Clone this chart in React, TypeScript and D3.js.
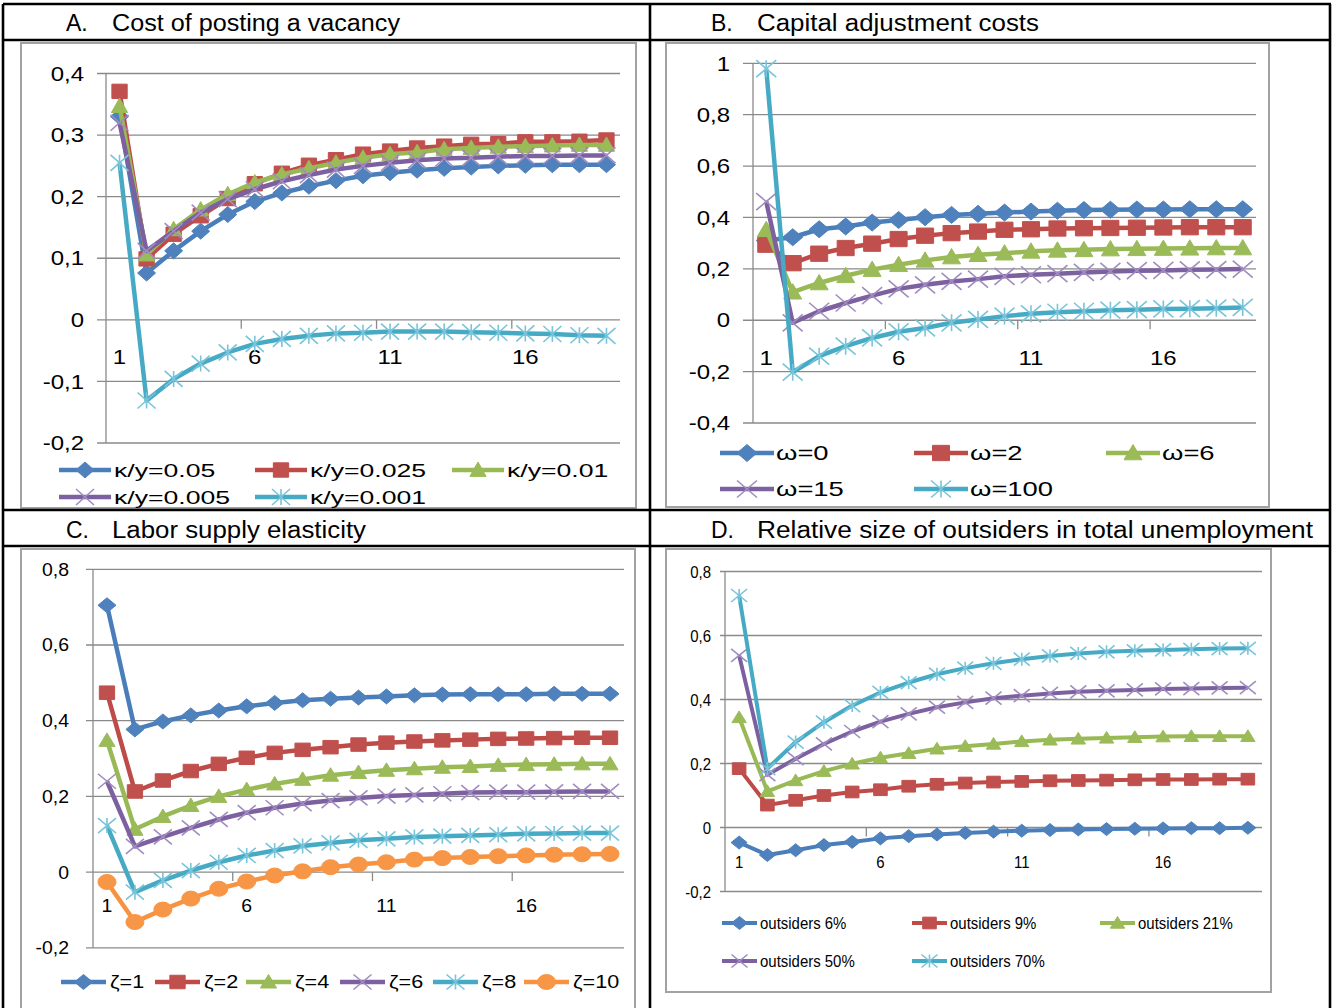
import React, { useEffect, useRef } from 'react';
import * as d3 from 'd3';

// horizon (quarters) shared by all four panels
const periods = [1, 2, 3, 4, 5, 6, 7, 8, 9, 10, 11, 12, 13, 14, 15, 16, 17, 18, 19];
const periodTicks = [1, 6, 11, 16];

// A. Cost of posting a vacancy
const vacancyLabels = ['κ/y=0.05', 'κ/y=0.025', 'κ/y=0.01', 'κ/y=0.005', 'κ/y=0.001'];
const vacancy005 = [0.33, 0.076, 0.112, 0.144, 0.171, 0.192, 0.206, 0.217, 0.226, 0.234, 0.239, 0.243, 0.246, 0.248, 0.25, 0.251, 0.252, 0.252, 0.252];
const vacancy0025 = [0.371, 0.099, 0.139, 0.169, 0.197, 0.221, 0.238, 0.251, 0.26, 0.269, 0.274, 0.279, 0.282, 0.285, 0.286, 0.289, 0.289, 0.29, 0.292];
const vacancy001 = [0.347, 0.106, 0.147, 0.179, 0.204, 0.223, 0.236, 0.246, 0.255, 0.263, 0.269, 0.272, 0.277, 0.279, 0.281, 0.282, 0.283, 0.284, 0.284];
const vacancy0005 = [0.32, 0.112, 0.144, 0.174, 0.196, 0.212, 0.225, 0.235, 0.244, 0.25, 0.255, 0.259, 0.262, 0.263, 0.265, 0.266, 0.266, 0.267, 0.267];
const vacancy0001 = [0.255, -0.131, -0.096, -0.071, -0.053, -0.039, -0.031, -0.026, -0.022, -0.021, -0.019, -0.019, -0.019, -0.02, -0.021, -0.022, -0.023, -0.025, -0.026];
const vacancyTicks = [-0.2, -0.1, 0, 0.1, 0.2, 0.3, 0.4];

// B. Capital adjustment costs
const omegaLabels = ['ω=0', 'ω=2', 'ω=6', 'ω=15', 'ω=100'];
const omega0 = [0.31, 0.323, 0.354, 0.365, 0.38, 0.39, 0.401, 0.41, 0.414, 0.419, 0.423, 0.426, 0.429, 0.43, 0.431, 0.431, 0.432, 0.432, 0.432];
const omega2 = [0.294, 0.222, 0.259, 0.281, 0.298, 0.316, 0.329, 0.339, 0.345, 0.352, 0.354, 0.357, 0.358, 0.359, 0.36, 0.361, 0.362, 0.362, 0.362];
const omega6 = [0.352, 0.109, 0.145, 0.173, 0.197, 0.216, 0.233, 0.246, 0.255, 0.261, 0.268, 0.272, 0.274, 0.277, 0.278, 0.279, 0.28, 0.281, 0.281];
const omega15 = [0.462, -0.01, 0.035, 0.067, 0.096, 0.122, 0.138, 0.151, 0.16, 0.171, 0.177, 0.181, 0.186, 0.19, 0.193, 0.194, 0.196, 0.197, 0.199];
const omega100 = [0.979, -0.202, -0.14, -0.101, -0.069, -0.045, -0.03, -0.01, 0.003, 0.016, 0.025, 0.031, 0.035, 0.039, 0.041, 0.044, 0.045, 0.047, 0.05];
const omegaTicks = [-0.4, -0.2, 0, 0.2, 0.4, 0.6, 0.8, 1];

// C. Labor supply elasticity
const zetaLabels = ['ζ=1', 'ζ=2', 'ζ=4', 'ζ=6', 'ζ=8', 'ζ=10'];
const zeta1 = [0.705, 0.377, 0.398, 0.414, 0.427, 0.438, 0.447, 0.454, 0.458, 0.461, 0.464, 0.467, 0.469, 0.47, 0.47, 0.47, 0.471, 0.471, 0.471];
const zeta2 = [0.474, 0.213, 0.242, 0.267, 0.286, 0.302, 0.315, 0.323, 0.33, 0.337, 0.342, 0.345, 0.348, 0.35, 0.352, 0.353, 0.354, 0.355, 0.355];
const zeta4 = [0.348, 0.113, 0.147, 0.176, 0.2, 0.218, 0.233, 0.245, 0.256, 0.263, 0.269, 0.273, 0.277, 0.279, 0.282, 0.284, 0.285, 0.286, 0.286];
const zeta6 = [0.24, 0.068, 0.093, 0.117, 0.139, 0.157, 0.17, 0.181, 0.189, 0.196, 0.201, 0.204, 0.207, 0.21, 0.211, 0.211, 0.212, 0.213, 0.213];
const zeta8 = [0.123, -0.053, -0.022, 0.004, 0.026, 0.044, 0.057, 0.069, 0.077, 0.084, 0.088, 0.093, 0.095, 0.097, 0.099, 0.101, 0.102, 0.103, 0.103];
const zeta10 = [-0.026, -0.132, -0.099, -0.07, -0.044, -0.025, -0.009, 0.002, 0.013, 0.02, 0.026, 0.033, 0.037, 0.04, 0.042, 0.044, 0.046, 0.047, 0.048];
const zetaTicks = [-0.2, 0, 0.2, 0.4, 0.6, 0.8];

// D. Relative size of outsiders in total unemployment
const outsiderLabels = ['outsiders 6%', 'outsiders 9%', 'outsiders 21%', 'outsiders 50%', 'outsiders 70%'];
const outsiders6 = [-0.047, -0.086, -0.071, -0.055, -0.045, -0.034, -0.027, -0.022, -0.017, -0.013, -0.01, -0.008, -0.006, -0.005, -0.004, -0.003, -0.002, -0.002, -0.001];
const outsiders9 = [0.184, 0.07, 0.085, 0.1, 0.111, 0.118, 0.129, 0.135, 0.139, 0.142, 0.144, 0.146, 0.147, 0.148, 0.149, 0.15, 0.15, 0.151, 0.151];
const outsiders21 = [0.344, 0.113, 0.147, 0.176, 0.199, 0.218, 0.232, 0.246, 0.254, 0.261, 0.269, 0.274, 0.277, 0.28, 0.282, 0.284, 0.285, 0.285, 0.285];
const outsiders50 = [0.538, 0.165, 0.215, 0.261, 0.3, 0.331, 0.355, 0.376, 0.391, 0.404, 0.412, 0.419, 0.424, 0.427, 0.43, 0.433, 0.434, 0.436, 0.437];
const outsiders70 = [0.725, 0.184, 0.267, 0.329, 0.381, 0.422, 0.453, 0.479, 0.498, 0.513, 0.526, 0.536, 0.544, 0.549, 0.552, 0.555, 0.557, 0.559, 0.56];
const outsiderTicks = [-0.2, 0, 0.2, 0.4, 0.6, 0.8];

type Shape = 'diamond' | 'square' | 'triangle' | 'cross' | 'star' | 'circle';

// Excel 2007 palette
const lineColors = ['#4A7EBB', '#BE4B48', '#98B954', '#7D60A0', '#46AAC5', '#F69240'];
const markerColors = ['#4F81BD', '#C0504D', '#9BBB59', '#A08CC0', '#78C4DA', '#F79646'];
const shapes: Shape[] = ['diamond', 'square', 'triangle', 'cross', 'star', 'circle'];

const FONT = "'Liberation Sans', Arial, sans-serif";

interface PanelSpec {
  box: [number, number, number, number];
  plot: { left: number; right: number; top: number; bottom: number };
  yTicks: number[];
  tickOut: number;
  tickFont: number;
  tickSx: number;
  yLabelX: number;
  xLabelDy: number;
  legendFont: number;
  legendSx: number;
  legendCols: number[];
  legendRows: number[];
  legendLine: number;
  legendGap: number;
  lineWidth: number;
  mw: number;
  mh: number;
  labels: string[];
  series: number[][];
}

const panels: PanelSpec[] = [
  {
    box: [21, 43, 636, 508],
    plot: { left: 106, right: 620, top: 73.5, bottom: 443 },
    yTicks: vacancyTicks,
    tickOut: 9, tickFont: 20, tickSx: 1.2, yLabelX: 84, xLabelDy: 44,
    legendFont: 19, legendSx: 1.4, legendCols: [59, 255, 452], legendRows: [470, 497],
    legendLine: 52, legendGap: 3,
    lineWidth: 4.5, mw: 9, mh: 8,
    labels: vacancyLabels,
    series: [vacancy005, vacancy0025, vacancy001, vacancy0005, vacancy0001],
  },
  {
    box: [666, 43, 1269, 507],
    plot: { left: 753, right: 1256, top: 63.3, bottom: 423 },
    yTicks: omegaTicks,
    tickOut: 10, tickFont: 20, tickSx: 1.2, yLabelX: 730, xLabelDy: 45,
    legendFont: 20, legendSx: 1.37, legendCols: [720, 914, 1106], legendRows: [453, 489],
    legendLine: 54, legendGap: 2,
    lineWidth: 4.5, mw: 10, mh: 8.5,
    labels: omegaLabels,
    series: [omega0, omega2, omega6, omega15, omega100],
  },
  {
    box: [21, 549, 635, 1014],
    plot: { left: 93, right: 624, top: 569.3, bottom: 947.8 },
    yTicks: zetaTicks,
    tickOut: 7, tickFont: 18, tickSx: 1.08, yLabelX: 69, xLabelDy: 39.5,
    legendFont: 18, legendSx: 1.2, legendCols: [61, 155, 246, 340, 433, 524], legendRows: [982],
    legendLine: 45, legendGap: 4,
    lineWidth: 4.5, mw: 9, mh: 7.5,
    labels: zetaLabels,
    series: [zeta1, zeta2, zeta4, zeta6, zeta8, zeta10],
  },
  {
    box: [666, 549, 1271, 992],
    plot: { left: 725, right: 1262, top: 571.5, bottom: 891.5 },
    yTicks: outsiderTicks,
    tickOut: 5, tickFont: 17, tickSx: 0.88, yLabelX: 711, xLabelDy: 40,
    legendFont: 17, legendSx: 0.88, legendCols: [722, 912, 1100], legendRows: [923, 961],
    legendLine: 35, legendGap: 3,
    lineWidth: 4, mw: 8, mh: 6.5,
    labels: outsiderLabels,
    series: [outsiders6, outsiders9, outsiders21, outsiders50, outsiders70],
  },
];

const headers = [
  { letter: 'A.', text: 'Cost of posting a vacancy', x: 66, y: 30, len: 288 },
  { letter: 'B.', text: 'Capital adjustment costs', x: 711, y: 30, len: 282 },
  { letter: 'C.', text: 'Labor supply elasticity', x: 66, y: 537, len: 254 },
  { letter: 'D.', text: 'Relative size of outsiders in total unemployment', x: 711, y: 537, len: 556 },
];

const markerPath = (shape: Shape, hw: number, hh: number) => {
  switch (shape) {
    case 'diamond':
      return `M0,${-hh}L${hw},0L0,${hh}L${-hw},0Z`;
    case 'square':
      return `M${-hw * 0.85},${-hh * 0.9}H${hw * 0.85}V${hh * 0.9}H${-hw * 0.85}Z`;
    case 'triangle':
      return `M0,${-hh}L${hw * 0.9},${hh * 0.8}L${-hw * 0.9},${hh * 0.8}Z`;
    case 'cross':
      return `M${-hw},${-hh}L${hw},${hh}M${hw},${-hh}L${-hw},${hh}`;
    case 'star':
      return `M${-hw},${-hh}L${hw},${hh}M${hw},${-hh}L${-hw},${hh}M0,${-hh}V${hh}`;
    default:
      return `M${-hw},0A${hw},${hh} 0 1,0 ${hw},0A${hw},${hh} 0 1,0 ${-hw},0Z`;
  }
};

const fmtTick = (t: number) => (t === 0 ? '0' : Number.isInteger(t) ? String(t) : t.toFixed(1).replace('.', ','));

const Panel: React.FC<{ spec: PanelSpec }> = ({ spec }) => {
  const ref = useRef<SVGGElement>(null);

  useEffect(() => {
    if (!ref.current) return;
    const g = d3.select(ref.current);
    g.selectAll('*').remove();
    const { plot } = spec;

    const x = d3.scaleBand<number>().domain(periods).range([plot.left, plot.right]);
    const cx = (p: number) => (x(p) as number) + x.bandwidth() / 2;
    const y = d3.scaleLinear().domain([d3.min(spec.yTicks)!, d3.max(spec.yTicks)!]).range([plot.bottom, plot.top]);

    const addText = (parent: any, str: string, tx: number, ty: number, size: number, sx: number, anchor: string) =>
      parent.append('text')
        .attr('transform', `translate(${tx},${ty}) scale(${sx},1)`)
        .attr('text-anchor', anchor)
        .attr('font-family', FONT)
        .attr('font-size', size)
        .attr('fill', '#000')
        .text(str);

    // chart frame
    const [bx0, by0, bx1, by1] = spec.box;
    g.append('rect')
      .attr('x', bx0).attr('y', by0)
      .attr('width', bx1 - bx0).attr('height', by1 - by0)
      .attr('fill', '#fff').attr('stroke', '#a2a2a2').attr('stroke-width', 2);

    // gridlines + value ticks
    g.append('g').selectAll('line').data(spec.yTicks).join('line')
      .attr('x1', plot.left - spec.tickOut).attr('x2', plot.right)
      .attr('y1', d => y(d)).attr('y2', d => y(d))
      .attr('stroke', '#8a8a8a').attr('stroke-width', 1.3);

    g.append('line')
      .attr('x1', plot.left).attr('x2', plot.left)
      .attr('y1', plot.top).attr('y2', plot.bottom)
      .attr('stroke', '#8a8a8a').attr('stroke-width', 1.3);

    // category ticks every 5 periods, hanging from the zero line
    const step = x.step();
    g.append('g').selectAll('line').data([5, 10, 15]).join('line')
      .attr('x1', d => plot.left + d * step).attr('x2', d => plot.left + d * step)
      .attr('y1', y(0)).attr('y2', y(0) + 9)
      .attr('stroke', '#8a8a8a').attr('stroke-width', 1.3);

    spec.yTicks.forEach(t => addText(g, fmtTick(t), spec.yLabelX, y(t) + spec.tickFont * 0.36, spec.tickFont, spec.tickSx, 'end'));
    periodTicks.forEach(p => addText(g, String(p), cx(p), y(0) + spec.xLabelDy, spec.tickFont, spec.tickSx, 'middle'));

    const line = d3.line<number>()
      .x((_, i) => cx(periods[i]))
      .y(d => y(d));

    const drawMarker = (parent: any, i: number, px: number, py: number) => {
      const shape = shapes[i];
      const open = shape === 'cross' || shape === 'star';
      parent.append('path')
        .attr('transform', `translate(${px},${py})`)
        .attr('d', markerPath(shape, spec.mw, spec.mh))
        .attr('fill', open ? 'none' : markerColors[i])
        .attr('stroke', markerColors[i])
        .attr('stroke-width', open ? 1.6 : 1);
    };

    spec.series.forEach((vals, i) => {
      const sg = g.append('g');
      sg.append('path')
        .attr('d', line(vals))
        .attr('fill', 'none')
        .attr('stroke', lineColors[i])
        .attr('stroke-width', spec.lineWidth)
        .attr('stroke-linejoin', 'round');
      vals.forEach((v, k) => drawMarker(sg, i, cx(periods[k]), y(v)));
    });

    // legend
    const perRow = spec.legendCols.length;
    spec.labels.forEach((label, i) => {
      const lx = spec.legendCols[i % perRow];
      const ly = spec.legendRows[Math.floor(i / perRow)];
      const lg = g.append('g');
      lg.append('line')
        .attr('x1', lx).attr('x2', lx + spec.legendLine)
        .attr('y1', ly).attr('y2', ly)
        .attr('stroke', lineColors[i]).attr('stroke-width', spec.lineWidth);
      drawMarker(lg, i, lx + spec.legendLine / 2, ly);
      addText(lg, label, lx + spec.legendLine + spec.legendGap, ly + spec.legendFont * 0.36, spec.legendFont, spec.legendSx, 'start');
    });
  }, [spec]);

  return <g ref={ref} />;
};

const App: React.FC = () => (
  <svg width={1335} height={1008} style={{ position: 'absolute', left: 0, top: 0, background: '#fff' }}>
    {panels.map((p, i) => <Panel key={i} spec={p} />)}
    {headers.map(h => (
      <g key={h.letter} fontFamily={FONT} fontSize={23} fill="#000">
        <text x={h.x} y={h.y + 1}>{h.letter}</text>
        <text x={h.x + 46} y={h.y + 1} textLength={h.len} lengthAdjust="spacingAndGlyphs">{h.text}</text>
      </g>
    ))}
    <g stroke="#000" strokeWidth={2.6}>
      <line x1={3} x2={1331} y1={4} y2={4} />
      <line x1={3} x2={1331} y1={40} y2={40} />
      <line x1={3} x2={1331} y1={510} y2={510} />
      <line x1={3} x2={1331} y1={546} y2={546} />
      <line x1={3} x2={3} y1={4} y2={1008} />
      <line x1={650} x2={650} y1={4} y2={1008} />
      <line x1={1330} x2={1330} y1={4} y2={1008} />
    </g>
  </svg>
);

export default App;
